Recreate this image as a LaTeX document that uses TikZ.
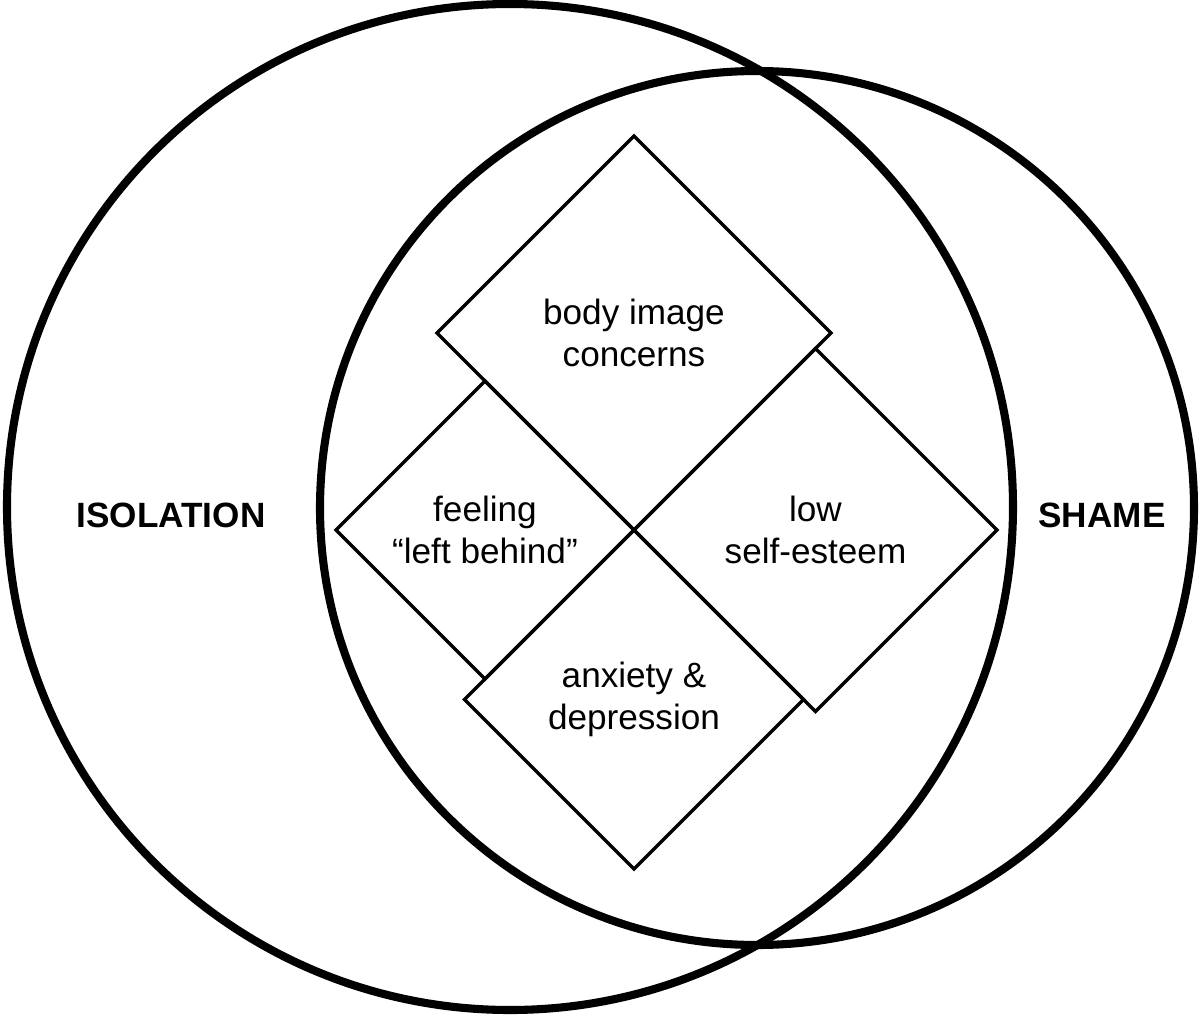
\documentclass[tikz,border=0pt]{standalone}
\usepackage{fontspec}
\setmainfont{Liberation Sans}
\usetikzlibrary{shapes.geometric}

\tikzset{
    ring/.style={circle,draw,line width=2.3pt,inner sep=0pt,outer sep=0pt},
    facet/.style={diamond,aspect=1,draw,line width=1pt,inner sep=0pt,outer sep=0pt,
        align=center,font=\fontsize{10}{11.8}\selectfont},
    heading/.style={font=\fontsize{10}{12}\selectfont\bfseries}
}

\begin{document}
\begin{tikzpicture}
    \useasboundingbox (0,0) rectangle (12,10.15);

    \node[ring,minimum size=10.06cm] (isolation) at (5.10,5.08) {};
    \node[ring,minimum size=8.74cm] (shame) at (7.57,5.07) {};

    \node[heading] (isolationlabel) at (1.71,5.00) {ISOLATION};
    \node[heading] (shamelabel) at (11.02,5.00) {SHAME};

    % the four squares meet here
    \coordinate (mid) at (6.34,4.85);

    \node[facet,minimum size=2.98cm,anchor=east] (behind) at (mid) {feeling\\“left behind”};
    \node[facet,minimum size=3.63cm,anchor=west] (esteem) at (mid) {low\\self-esteem};
    \node[facet,minimum size=3.39cm,anchor=north] (anxiety) at (mid) {anxiety \&\\depression};
    \node[facet,minimum size=3.94cm,anchor=south] (body) at (mid) {body image\\concerns};

\end{tikzpicture}
\end{document}
